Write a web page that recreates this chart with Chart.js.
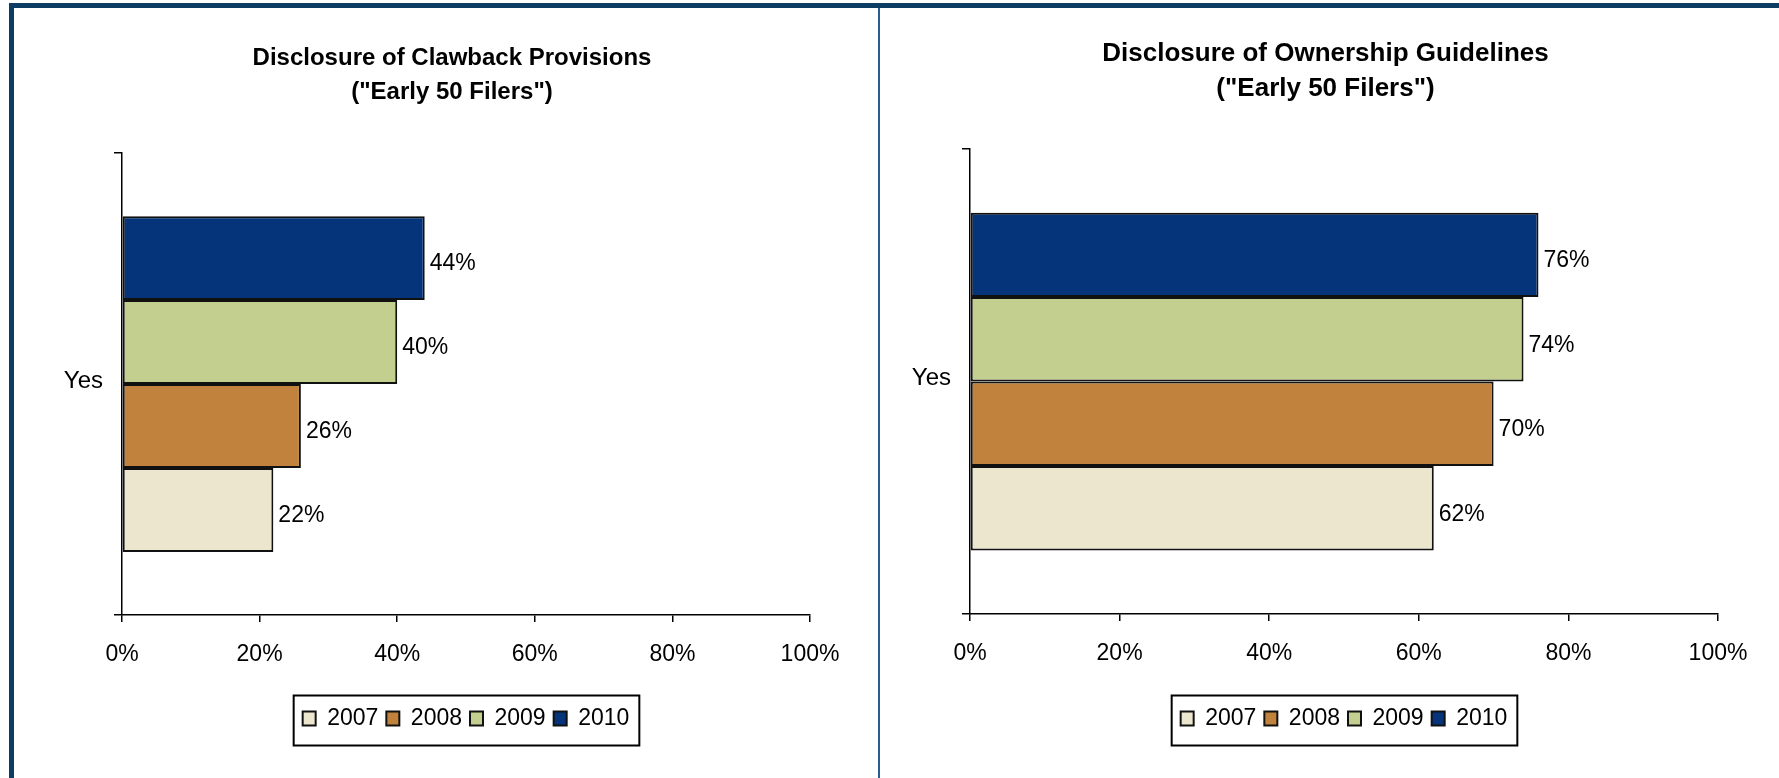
<!DOCTYPE html>
<html>
<head>
<meta charset="utf-8">
<title>Early 50 Filers</title>
<script src="https://cdn.jsdelivr.net/npm/chart.js@4.4.1/dist/chart.umd.min.js"></script>
<style>
  html, body { margin: 0; padding: 0; background: #fff; }
  body { width: 1779px; height: 778px; position: relative; overflow: hidden; }
  .frame {
    position: absolute; left: 9px; top: 3px; right: 0; bottom: 0;
    border-top: 5px solid #0d3c65; border-left: 5px solid #0d3c65;
  }
  .divider { position: absolute; left: 878px; top: 8px; bottom: 0; width: 2px; background: #2a5e8e; }
  .panel { position: absolute; top: 8px; height: 770px; }
  #leftPanel { left: 14px; width: 864px; }
  #rightPanel { left: 880px; width: 899px; }
</style>
</head>
<body>
<div class="frame"></div>
<div class="divider"></div>
<div class="panel" id="leftPanel"><canvas id="clawbackChart"></canvas></div>
<div class="panel" id="rightPanel"><canvas id="ownershipChart"></canvas></div>

<script>
const categories = ['Yes'];
const years = ['2007', '2008', '2009', '2010'];
const clawbackValues = [22, 26, 40, 44];
const ownershipValues = [62, 70, 74, 76];
const xTicks = [0, 20, 40, 60, 80, 100];

const yearColors = ['#ede6cf', '#c0823c', '#c3cf8f', '#05347a'];

Chart.defaults.font.family = '"Liberation Sans", Arial, sans-serif';
Chart.defaults.color = '#000';

// percent labels just past the end of each bar
const valueLabels = {
    id: 'valueLabels',
    afterDatasetsDraw(chart) {
        const ctx = chart.ctx;
        ctx.save();
        ctx.font = '23px "Liberation Sans", Arial, sans-serif';
        ctx.fillStyle = '#000';
        ctx.textAlign = 'left';
        ctx.textBaseline = 'middle';
        chart.data.datasets.forEach((ds, i) => {
            chart.getDatasetMeta(i).data.forEach((bar, j) => {
                ctx.fillText(ds.data[j] + '%', bar.x + 5, bar.y + 6);
            });
        });
        ctx.restore();
    }
};

// legend sits under the plot area, inside a thin black box
const legendFrame = {
    id: 'legendFrame',
    afterLayout(chart) {
        const lg = chart.legend;
        const shift = (chart.chartArea.left + chart.chartArea.right) / 2 - (lg.left + lg.right) / 2;
        lg.left += shift;
        lg.right += shift;
    },
    afterDraw(chart) {
        const boxes = chart.legend.legendHitBoxes;
        if (!boxes || !boxes.length) return;
        const first = boxes[0];
        const last = boxes[boxes.length - 1];
        const left = first.left - 9;
        const right = last.left + last.width + 10;
        const mid = first.top + first.height / 2;
        const ctx = chart.ctx;
        ctx.save();
        ctx.strokeStyle = '#000';
        ctx.lineWidth = 2;
        ctx.strokeRect(left, mid - 23, right - left, 50);
        ctx.restore();
    }
};

function makeChart(canvasId, titleLines, values, geom) {
    const datasets = years.map((year, i) => ({
        label: year,
        data: [values[i]],
        backgroundColor: yearColors[i],
        borderColor: '#111',
        borderWidth: 2,
        borderSkipped: false,
        barPercentage: 1,
        categoryPercentage: 0.727
    })).reverse(); // 2010 on top, 2007 at the bottom

    return new Chart(document.getElementById(canvasId), {
        type: 'bar',
        data: { labels: categories, datasets: datasets },
        options: {
            indexAxis: 'y',
            responsive: true,
            maintainAspectRatio: false,
            animation: false,
            layout: { padding: { left: geom.padLeft, right: geom.padRight, top: 0, bottom: 38 } },
            plugins: {
                title: {
                    display: true,
                    text: titleLines,
                    color: '#000',
                    font: { size: geom.titleSize, weight: 'bold', lineHeight: geom.titleLine },
                    padding: { top: geom.titleTop, bottom: geom.titleBottom }
                },
                legend: {
                    display: true,
                    position: 'bottom',
                    reverse: true,
                    labels: {
                        color: '#000',
                        font: { size: 23 },
                        boxWidth: 13,
                        boxHeight: 14,
                        padding: 8
                    }
                },
                tooltip: { enabled: false }
            },
            scales: {
                x: {
                    min: 0,
                    max: 100,
                    afterBuildTicks(scale) { scale.ticks = xTicks.map(v => ({ value: v })); },
                    ticks: { callback: v => v + '%', color: '#000', font: { size: 23 }, padding: 19, maxRotation: 0 },
                    grid: { drawOnChartArea: false, color: '#000', lineWidth: 1.5, tickLength: 7 },
                    border: { color: '#000', width: 1.5 },
                    afterFit(scale) {
                        scale.height = geom.xHeight;
                        // room on the right of the plot, without narrowing the title
                        scale.paddingRight = geom.plotRight;
                    }
                },
                y: {
                    ticks: { color: '#000', font: { size: 24 }, padding: 11, labelOffset: -3 },
                    grid: { offset: true, drawOnChartArea: false, color: '#000', lineWidth: 1.5, tickLength: 8 },
                    border: { color: '#000', width: 1.5 },
                    afterFit(scale) { scale.width = geom.yWidth; }
                }
            }
        },
        plugins: [valueLabels, legendFrame]
    });
}

makeChart('clawbackChart',
    ['Disclosure of Clawback Provisions', '("Early 50 Filers")'],
    clawbackValues,
    { padLeft: 12, padRight: 0, yWidth: 96, xHeight: 84, plotRight: 68,
      titleSize: 24, titleLine: 1.44, titleTop: 33, titleBottom: 43 });

makeChart('ownershipChart',
    ['Disclosure of Ownership Guidelines', '("Early 50 Filers")'],
    ownershipValues,
    { padLeft: 0, padRight: 8, yWidth: 90, xHeight: 85, plotRight: 61,
      titleSize: 26, titleLine: 1.35, titleTop: 28, titleBottom: 43 });
</script>
</body>
</html>
